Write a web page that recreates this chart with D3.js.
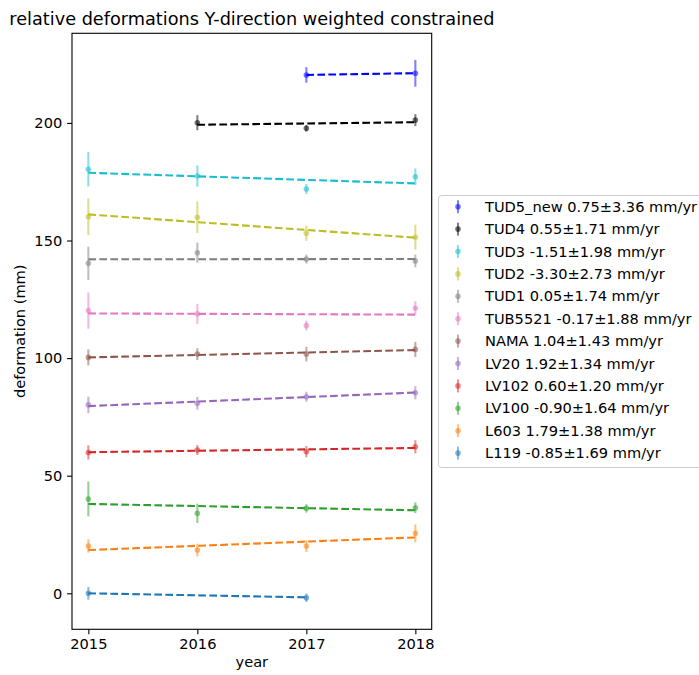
<!DOCTYPE html>
<html>
<head>
<meta charset="utf-8">
<script src="https://cdn.jsdelivr.net/npm/d3@7"></script>
<style>
  body { margin: 0; background: #fff; }
  svg { font-family: "DejaVu Sans", sans-serif; }
</style>
</head>
<body>
<div id="chart"></div>
<script>
// stations in plotting order (legend is shown reversed)
const stations = ["L119", "L603", "LV100", "LV102", "LV20", "NAMA", "TUB5521", "TUD1", "TUD2", "TUD3", "TUD4", "TUD5_new"];
const rates = [-0.85, 1.79, -0.90, 0.60, 1.92, 1.04, -0.17, 0.05, -3.30, -1.51, 0.55, 0.75];
const rateErrors = [1.69, 1.38, 1.64, 1.20, 1.34, 1.43, 1.88, 1.74, 2.73, 1.98, 1.71, 3.36];

const years = [
    [2015, 2017],
    [2015, 2016, 2017, 2018],
    [2015, 2016, 2017, 2018],
    [2015, 2016, 2017, 2018],
    [2015, 2016, 2017, 2018],
    [2015, 2016, 2017, 2018],
    [2015, 2016, 2017, 2018],
    [2015, 2016, 2017, 2018],
    [2015, 2016, 2017, 2018],
    [2015, 2016, 2017, 2018],
    [2016, 2017, 2018],
    [2017, 2018]
];
const values = [
    [0.0, -1.9],
    [20.1, 18.4, 20.1, 25.5],
    [40.1, 34.0, 36.1, 36.4],
    [59.9, 60.9, 60.2, 62.3],
    [80.1, 80.8, 83.6, 85.3],
    [100.3, 101.7, 101.7, 103.7],
    [120.2, 118.8, 113.8, 121.2],
    [140.3, 144.8, 142.1, 141.3],
    [160.1, 159.9, 153.1, 151.4],
    [180.3, 177.4, 171.9, 177.1],
    [200.1, 197.7, 201.2],
    [220.4, 221.1]
];
const errors = [
    [2.7, 1.8],
    [2.8, 2.7, 2.5, 3.8],
    [7.4, 4.1, 1.8, 2.3],
    [3.0, 2.1, 2.4, 2.8],
    [3.5, 2.7, 2.1, 2.8],
    [3.4, 2.5, 3.1, 3.2],
    [7.7, 4.3, 2.1, 3.0],
    [7.1, 4.3, 1.9, 2.7],
    [7.8, 6.7, 3.2, 5.3],
    [7.3, 4.5, 2.1, 3.5],
    [3.2, 1.4, 2.5],
    [3.3, 5.7]
];
// fitted value at the first year of each station
const fitStart = [0.0, 18.4, 38.0, 60.0, 79.6, 100.3, 119.0, 142.0, 161.1, 178.8, 199.2, 220.4];

const xTicks = [2015, 2016, 2017, 2018];
const yTicks = [0, 50, 100, 150, 200];

const colors = ["#1f77b4", "#ff7f0e", "#2ca02c", "#d62728", "#9467bd", "#8c564b",
                "#e377c2", "#7f7f7f", "#bcbd22", "#17becf", "#000000", "#0000ff"];

const width = 699, height = 675;
const plotLeft = 72, plotRight = 431.7, plotTop = 33.3, plotBottom = 629.3;
const fontSize = "14.6px";

const svg = d3.select("#chart").append("svg")
    .attr("width", width)
    .attr("height", height);

const x = d3.scaleLinear().domain([2014.85, 2018.15]).range([plotLeft, plotRight]);
const y = d3.scaleLinear().domain([-15.3, 238.1]).range([plotBottom, plotTop]);

// title
svg.append("text")
    .attr("x", (plotLeft + plotRight) / 2)
    .attr("y", 25)
    .attr("text-anchor", "middle")
    .style("font-size", "17.7px")
    .text("relative deformations Y-direction weighted constrained");

// series
const plot = svg.append("g");
stations.forEach((name, i) => {
    const g = plot.append("g");
    const pts = years[i].map((yr, j) => ({ yr, v: values[i][j], e: errors[i][j] }));

    g.selectAll("line.err").data(pts).enter().append("line")
        .attr("class", "err")
        .attr("x1", d => x(d.yr)).attr("x2", d => x(d.yr))
        .attr("y1", d => y(d.v - d.e)).attr("y2", d => y(d.v + d.e))
        .attr("stroke", colors[i])
        .attr("stroke-opacity", 0.5)
        .attr("stroke-width", 2.1);

    g.selectAll("circle").data(pts).enter().append("circle")
        .attr("cx", d => x(d.yr)).attr("cy", d => y(d.v))
        .attr("r", 2.8)
        .attr("fill", colors[i])
        .attr("fill-opacity", 0.55);

    const y0 = years[i][0], y1 = years[i][years[i].length - 1];
    g.append("line")
        .attr("x1", x(y0)).attr("y1", y(fitStart[i]))
        .attr("x2", x(y1)).attr("y2", y(fitStart[i] + rates[i] * (y1 - y0)))
        .attr("stroke", colors[i])
        .attr("stroke-width", 2.1)
        .attr("stroke-dasharray", "7.7,3.3");
});

// axes
const xAxis = d3.axisBottom(x).tickValues(xTicks).tickFormat(d3.format("d")).tickSize(4.9).tickPadding(4.9);
const yAxis = d3.axisLeft(y).tickValues(yTicks).tickSize(4.9).tickPadding(4.9);

const gx = svg.append("g").attr("transform", `translate(0,${plotBottom})`).call(xAxis);
const gy = svg.append("g").attr("transform", `translate(${plotLeft},0)`).call(yAxis);
[gx, gy].forEach(g => {
    g.select(".domain").remove();
    g.selectAll("line").attr("stroke", "#000").attr("stroke-width", 1.1);
    g.selectAll("text").style("font-size", fontSize).attr("fill", "#000")
        .style("font-family", "DejaVu Sans, sans-serif");
});

svg.append("rect")
    .attr("x", plotLeft).attr("y", plotTop)
    .attr("width", plotRight - plotLeft).attr("height", plotBottom - plotTop)
    .attr("fill", "none")
    .attr("stroke", "#000")
    .attr("stroke-width", 1.1);

svg.append("text")
    .attr("x", (plotLeft + plotRight) / 2)
    .attr("y", 667)
    .attr("text-anchor", "middle")
    .style("font-size", fontSize)
    .text("year");

svg.append("text")
    .attr("transform", `translate(25,${(plotTop + plotBottom) / 2}) rotate(-90)`)
    .attr("text-anchor", "middle")
    .style("font-size", fontSize)
    .text("deformation (mm)");

// legend
const legend = svg.append("g");
legend.append("rect")
    .attr("x", 438.5).attr("y", 195.5)
    .attr("width", 300).attr("height", 272)
    .attr("rx", 3)
    .attr("fill", "#fff")
    .attr("fill-opacity", 0.8)
    .attr("stroke", "#cccccc");

const order = d3.range(stations.length).reverse();
order.forEach((i, k) => {
    const cy = 206.7 + k * 22.4;
    legend.append("line")
        .attr("x1", 458).attr("x2", 458)
        .attr("y1", cy - 6.5).attr("y2", cy + 6.5)
        .attr("stroke", colors[i])
        .attr("stroke-opacity", 0.5)
        .attr("stroke-width", 2.1);
    legend.append("circle")
        .attr("cx", 458).attr("cy", cy)
        .attr("r", 2.8)
        .attr("fill", colors[i])
        .attr("fill-opacity", 0.55);
    legend.append("text")
        .attr("x", 485)
        .attr("y", cy + 5)
        .style("font-size", fontSize)
        .text(`${stations[i]} ${rates[i].toFixed(2)}±${rateErrors[i].toFixed(2)} mm/yr`);
});
</script>
</body>
</html>
